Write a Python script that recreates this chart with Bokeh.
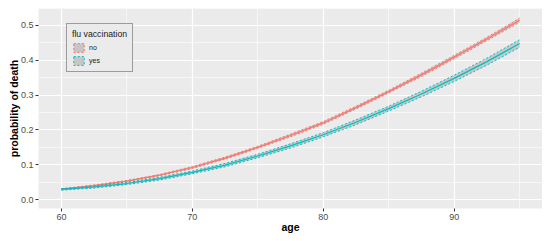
from bokeh.plotting import figure
from bokeh.models import Range1d, FixedTicker, Legend, LegendItem, ColumnDataSource, CustomJSTickFormatter
from bokeh.embed import file_html
from bokeh.resources import INLINE

# ---- data ----
ages = [60, 62.5, 65, 67.5, 70, 72.5, 75, 77.5, 80, 82.5, 85, 87.5, 90, 92.5, 95]

no_mid = [0.030, 0.040, 0.053, 0.070, 0.092, 0.119, 0.150, 0.184, 0.220, 0.264, 0.310, 0.358, 0.409, 0.461, 0.515]
no_lo  = [0.029, 0.038, 0.051, 0.068, 0.089, 0.116, 0.147, 0.180, 0.216, 0.260, 0.306, 0.353, 0.404, 0.456, 0.509]
no_hi  = [0.031, 0.042, 0.055, 0.072, 0.095, 0.122, 0.153, 0.188, 0.224, 0.268, 0.314, 0.363, 0.414, 0.466, 0.521]

yes_mid = [0.029, 0.036, 0.046, 0.060, 0.078, 0.099, 0.125, 0.154, 0.186, 0.222, 0.261, 0.303, 0.348, 0.396, 0.448]
yes_lo  = [0.027, 0.033, 0.043, 0.056, 0.074, 0.094, 0.120, 0.148, 0.180, 0.215, 0.254, 0.295, 0.339, 0.386, 0.437]
yes_hi  = [0.031, 0.039, 0.049, 0.064, 0.082, 0.104, 0.130, 0.160, 0.192, 0.229, 0.268, 0.311, 0.357, 0.406, 0.459]

groups = ["no", "yes"]
colors = ["#F8766D", "#00BFC4"]
x_ticks = [60, 70, 80, 90]
x_minor = [65, 75, 85, 95]
y_ticks = [0.0, 0.1, 0.2, 0.3, 0.4, 0.5]
y_minor = [-0.05, 0.05, 0.15, 0.25, 0.35, 0.45, 0.55]
legend_title = "flu vaccination"
x_label = "age"
y_label = "probability of death"

FONT = "Liberation Sans"

p = figure(frame_width=504, frame_height=200, output_backend="svg", toolbar_location=None,
           x_range=Range1d(58.25, 96.75), y_range=Range1d(-0.0257, 0.5486),
           min_border_left=38, min_border_right=0, min_border_top=8, min_border_bottom=0)

p.background_fill_color = "#EBEBEB"
p.border_fill_color = "white"
p.outline_line_color = None

p.xaxis.ticker = FixedTicker(ticks=x_ticks, minor_ticks=x_minor)
p.yaxis.ticker = FixedTicker(ticks=y_ticks, minor_ticks=y_minor)
p.yaxis.formatter = CustomJSTickFormatter(code="return tick.toFixed(1)")

for g in (p.xgrid, p.ygrid):
    g.grid_line_color = "white"
    g.grid_line_width = 1.2
    g.minor_grid_line_color = "white"
    g.minor_grid_line_width = 0.6

for ax in (p.xaxis, p.yaxis):
    ax.axis_line_color = None
    ax.major_tick_line_color = "#333333"
    ax.major_tick_in = 0
    ax.major_tick_out = 3
    ax.minor_tick_out = 0
    ax.minor_tick_in = 0
    ax.major_label_text_color = "#4D4D4D"
    ax.major_label_text_font = FONT
    ax.major_label_text_font_size = "9px"
    ax.axis_label_text_font = FONT
    ax.axis_label_text_font_size = "10.5px"
    ax.axis_label_text_font_style = "bold"
    ax.axis_label_text_color = "black"

p.xaxis.axis_label = x_label
p.yaxis.axis_label = y_label
p.xaxis.major_label_standoff = 2
p.xaxis.axis_label_standoff = -2
p.yaxis.major_label_standoff = 2
p.yaxis.axis_label_standoff = -2

series = [(no_lo, no_mid, no_hi), (yes_lo, yes_mid, yes_hi)]
legend_items = []
for (lo, mid, hi), name, col in zip(series, groups, colors):
    src = ColumnDataSource(dict(x=ages, lo=lo, mid=mid, hi=hi))
    p.varea(x="x", y1="lo", y2="hi", source=src, fill_color="#333333", fill_alpha=0.2)
    p.line(x="x", y="lo", source=src, line_color=col, line_width=1, line_dash="2 2")
    p.line(x="x", y="hi", source=src, line_color=col, line_width=1, line_dash="2 2")
    p.line(x="x", y="mid", source=src, line_color=col, line_width=1.2)
    # zero-size key glyph (draws nothing on the plot) used for the legend swatch
    ksrc = ColumnDataSource(dict(l=[ages[-1]], r=[ages[-1]], b=[mid[-1]], t=[mid[-1]]))
    q = p.quad(left="l", right="r", bottom="b", top="t", source=ksrc,
               fill_color="#333333", fill_alpha=0.2, line_color=col, line_dash="2 2", line_width=1)
    legend_items.append(LegendItem(label=name, renderers=[q]))

legend = Legend(items=legend_items, title=legend_title, location=(28, 136))
legend.title_text_font = FONT
legend.title_text_font_size = "8.7px"
legend.title_text_font_style = "normal"
legend.title_text_color = "#1A1A1A"
legend.title_standoff = 3
legend.label_text_font = FONT
legend.label_text_font_size = "7px"
legend.label_text_color = "#1A1A1A"
legend.glyph_width = 13
legend.glyph_height = 11
legend.label_height = 11
legend.label_standoff = 4
legend.spacing = 2
legend.padding = 5
legend.margin = 0
legend.background_fill_color = "#EBEBEB"
legend.background_fill_alpha = 1
legend.border_line_color = "#4D4D4D"
legend.border_line_width = 1
p.add_layout(legend)

open("out.html", "w").write(file_html(p, INLINE))
